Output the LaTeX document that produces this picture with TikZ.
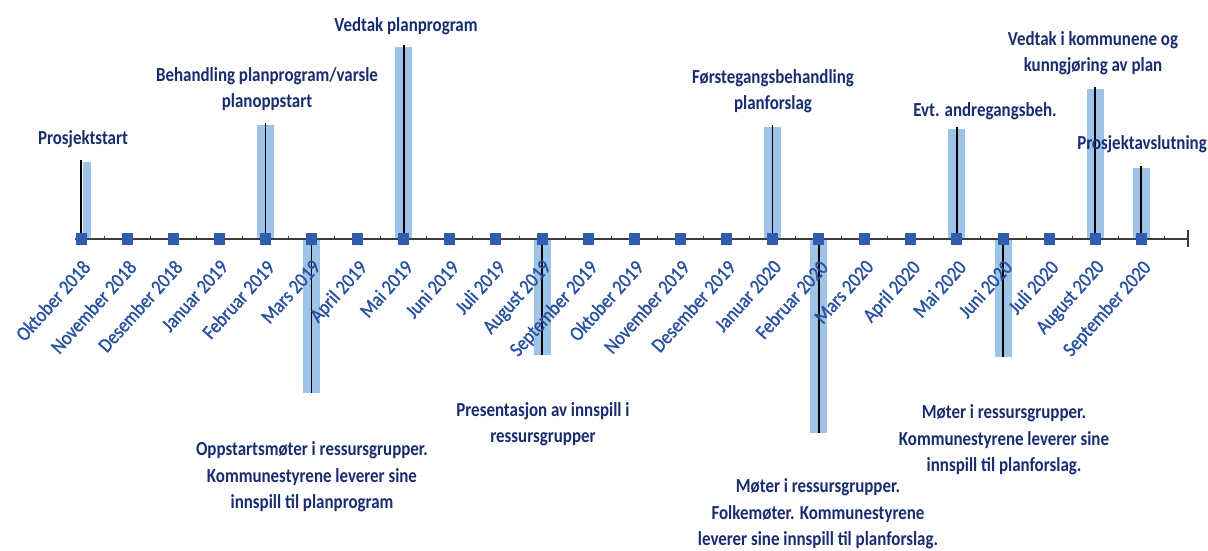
\documentclass[tikz,border=0pt]{standalone}
\usepackage{fontspec}
\newfontfamily\lblfont[FakeStretch=0.85]{Carlito}
\newfontfamily\monfont[FakeStretch=0.88,FakeBold=1.2]{Carlito}
\definecolor{navy}{RGB}{25,44,112}
\definecolor{monthblue}{RGB}{40,82,160}
\definecolor{markblue}{RGB}{47,94,176}
\definecolor{barblue}{RGB}{157,195,230}
\definecolor{axisgray}{RGB}{60,60,60}
\tikzset{
  marker/.style={rectangle,fill=markblue,draw=none,minimum width=11pt,minimum height=12pt,inner sep=0pt},
  monthlbl/.style={rotate=48,anchor=north east,inner sep=0pt,text=monthblue,font=\monfont\fontsize{20.3}{20.3}\selectfont},
  evtxt/.style={inner sep=0pt,align=center,text=navy,font=\lblfont\bfseries\fontsize{19.9}{26.5}\selectfont},
  stem/.style={draw=black,line width=1.8pt},
  barfill/.style={fill=barblue,draw=none},
  axisline/.style={draw=axisgray,line width=1.1pt},
  minortick/.style={draw=axisgray,line width=0.9pt}
}
\begin{document}
\begin{tikzpicture}[x=1pt,y=-1pt]
\useasboundingbox (0,0) rectangle (1208,551);
\def\ax{239}
\def\dx{46.1}
% month positions
\foreach \i in {0,...,23}{\coordinate (p\i) at ({81+\dx*\i},\ax);}
% stem end points
\coordinate (t0) at (81,160);
\coordinate (t4) at ({81+\dx*4},123);
\coordinate (t7) at ({81+\dx*7},45);
\coordinate (t15) at ({81+\dx*15},125);
\coordinate (t19) at ({81+\dx*19},127);
\coordinate (t22) at ({81+\dx*22},87);
\coordinate (t23) at ({81+\dx*23},166);
\coordinate (t5) at ({81+\dx*5},393);
\coordinate (t10) at ({81+\dx*10},355);
\coordinate (t16) at ({81+\dx*16},433);
\coordinate (t20) at ({81+\dx*20},357);
% light blue bars
\path[barfill] (83,162) rectangle (91,\ax);
\foreach \k in {4,7,15,19,22,23}{
  \path[barfill] ([xshift=-8.5pt,yshift=-2pt]t\k) rectangle ([xshift=8.5pt]p\k);
}
\foreach \k in {5,10,16,20}{
  \path[barfill] ([xshift=-8.5pt]p\k) rectangle ([xshift=8.5pt]t\k);
}
% axis
\coordinate (axs) at (75,\ax);
\coordinate (axe) at (1188,\ax);
\draw[axisline] (axs) -- (axe);
\draw[axisline] ([yshift=-8pt]axe) -- ([yshift=9pt]axe);
\foreach \i in {0,...,23}{
  \draw[minortick] ([xshift=23.05pt,yshift=3.5pt]p\i) -- ([xshift=23.05pt,yshift=-1pt]p\i);
}
% stems
\foreach \k in {0,4,7,15,19,22,23,5,10,16,20}{
  \draw[stem] (p\k) -- (t\k);
}
% markers and month labels
\foreach \n [count=\j from 0] in {Oktober 2018,November 2018,Desember 2018,Januar 2019,Februar 2019,Mars 2019,April 2019,Mai 2019,Juni 2019,Juli 2019,August 2019,September 2019,Oktober 2019,November 2019,Desember 2019,Januar 2020,Februar 2020,Mars 2020,April 2020,Mai 2020,Juni 2020,Juli 2020,August 2020,September 2020}{
  \node[marker] (m\j) at (p\j) {};
  \node[monthlbl] (l\j) at ([xshift=0pt,yshift=-19.5pt]p\j) {\n};
}
% event texts
\node[evtxt] (e1) at (83,139) {Prosjektstart};
\node[evtxt] (e2) at (267,89) {Behandling planprogram/varsle\\planoppstart};
\node[evtxt] (e3) at (406,26) {Vedtak planprogram};
\node[evtxt] (e4) at (773,91) {Førstegangsbehandling\\planforslag};
\node[evtxt] (e5) at (985,111) {Evt. andregangsbeh.};
\node[evtxt] (e6) at (1093,53) {Vedtak i kommunene og\\kunngjøring av plan};
\node[evtxt] (e7) at (1142,144) {Prosjektavslutning};
\node[evtxt] (e8) at (312,477) {Oppstartsmøter i ressursgrupper.\\Kommunestyrene leverer sine\\innspill til planprogram};
\node[evtxt] (e9) at (543,424) {Presentasjon av innspill i\\ressursgrupper};
\node[evtxt] (e10) at (818,514) {Møter i ressursgrupper.\\Folkemøter. Kommunestyrene\\leverer sine innspill til planforslag.};
\node[evtxt] (e11) at (1004,440) {Møter i ressursgrupper.\\Kommunestyrene leverer sine\\innspill til planforslag.};
\end{tikzpicture}
\end{document}
